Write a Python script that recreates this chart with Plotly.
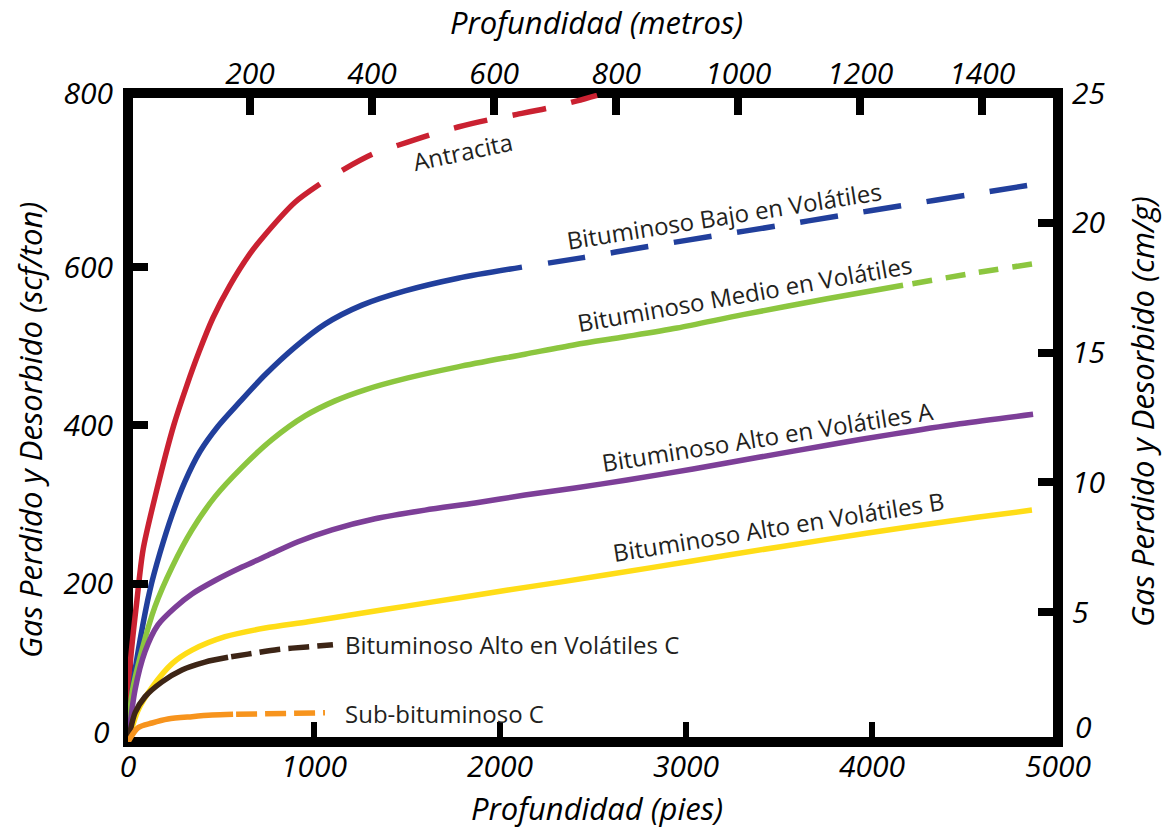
import plotly.graph_objects as go

# ---------------- data (depth in ft, gas in scf/ton) ----------------
red_x_solid = [0, 11, 48, 81, 151, 247, 317, 382, 457, 548, 656, 737, 898, 1032]
red_y_solid = [0, 95, 179, 243, 315, 401, 451, 493, 536, 577, 617, 641, 682, 705]
red_x_dash = [1032, 1156, 1317, 1452, 1634, 1774, 1957, 2091, 2280, 2414, 2522]
red_y_dash = [705, 723, 743, 754, 768, 777, 787, 793, 802, 810, 817]

blue_x_solid = [0, 27, 65, 118, 172, 237, 306, 387, 484, 602, 737, 898, 1059, 1258, 1489,
                1774, 2118]
blue_y_solid = [0, 72, 129, 192, 239, 287, 329, 367, 399, 430, 464, 499, 528, 552, 570,
                586, 600]
blue_x_dash = [2118, 2446, 2796, 3140, 3489, 3828, 4167, 4511, 4860]
blue_y_dash = [600, 612, 626, 639, 652, 665, 678, 691, 704]

green_x_solid = [0, 22, 75, 145, 237, 344, 468, 613, 774, 952, 1113, 1274, 1505, 1774,
                 2134, 2403, 2672, 2952, 3306, 3758, 4167]
green_y_solid = [0, 62, 116, 171, 221, 268, 310, 347, 382, 412, 431, 445, 460, 474,
                 490, 502, 512, 523, 540, 560, 577]
green_x_dash = [4167, 4511, 4860]
green_y_dash = [577, 591, 604]

purple_x = [0, 38, 91, 161, 253, 344, 468, 613, 753, 914, 1097, 1328, 1597, 1866,
            2134, 2403, 2683, 3038, 3398, 3758, 4113, 4473, 4866]
purple_y = [0, 66, 114, 148, 170, 187, 204, 221, 236, 253, 268, 282, 293, 302,
            312, 321, 331, 345, 360, 375, 389, 402, 414]

yellow_x = [0, 54, 129, 237, 344, 522, 737, 968, 1237, 1505, 1774, 2043, 2323,
            2806, 3220, 3758, 4204, 4565, 4860]
yellow_y = [0, 40, 69, 99, 116, 133, 144, 152, 162, 172, 182, 192, 202,
            220, 236, 256, 272, 284, 293]

brown_x_solid = [0, 38, 91, 183, 290, 414, 538]
brown_y_solid = [0, 37, 57, 76, 91, 101, 107]
brown_x_dash = [538, 645, 806, 962, 1102]
brown_y_dash = [107, 111, 117, 120, 123]

orange_x_solid = [0, 54, 129, 215, 344, 452, 565]
orange_y_solid = [0, 18, 24, 29, 32, 34, 35]
orange_x_dash = [565, 1059]
orange_y_dash = [35, 37]

x_ticks_ft = [0, 1000, 2000, 3000, 4000, 5000]
x_ticks_m = [200, 400, 600, 800, 1000, 1200, 1400]
y_ticks_scf = [200, 400, 600, 820]
y_ticks_scf_text = ["200", "400", "600", "800"]
y_ticks_cmg = [5, 10, 15, 20, 25]

labels = ["Antracita", "Bituminoso Bajo en Volátiles", "Bituminoso Medio en Volátiles",
          "Bituminoso Alto en Volátiles A", "Bituminoso Alto en Volátiles B",
          "Bituminoso Alto en Volátiles C", "Sub-bituminoso C"]

# ---------------- styling ----------------
RED = "#CA2131"
BLUE = "#213F9C"
GREEN = "#8CC63F"
PURPLE = "#7D3F98"
YELLOW = "#FFDD17"
BROWN = "#3D2516"
ORANGE = "#F7941D"
LW = 5.5

W, H = 1167, 831
L, R, T, B = 128, 1058, 93, 742


def pxx(p):
    return (p - L) / (R - L)


def pxy(p):
    return (B - p) / (B - T)


fig = go.Figure()


def add(x, y, color, dash="solid"):
    fig.add_trace(go.Scatter(x=x, y=y, mode="lines",
                             line=dict(color=color, width=LW, dash=dash,
                                       shape="spline", smoothing=0.8),
                             showlegend=False, hoverinfo="skip"))


add(red_x_solid, red_y_solid, RED)
add(red_x_dash, red_y_dash, RED, "0px,26px,34px,0px")
add(blue_x_solid, blue_y_solid, BLUE)
add(blue_x_dash, blue_y_dash, BLUE, "0px,26px,38px,0px")
add(green_x_solid, green_y_solid, GREEN)
add(green_x_dash, green_y_dash, GREEN, "0px,9px,20px,5px")
add(purple_x, purple_y, PURPLE)
add(yellow_x, yellow_y, YELLOW)
add(brown_x_solid, brown_y_solid, BROWN)
add(brown_x_dash, brown_y_dash, BROWN, "0px,3px,21px,5px")
add(orange_x_solid, orange_y_solid, ORANGE)
add(orange_x_dash, orange_y_dash, ORANGE, "0px,3px,21px,5px")

# registers the secondary (top / right) axes
fig.add_trace(go.Scatter(x=[None], y=[None], xaxis="x2", yaxis="y2",
                         showlegend=False, hoverinfo="skip"))

FONT = "Open Sans, Liberation Sans, Arial, sans-serif"
tickfont = dict(family=FONT, size=30, color="black", style="italic")
common = dict(showgrid=False, zeroline=False, showline=False, ticks="inside",
              tickcolor="black", tickfont=tickfont, fixedrange=True)

fig.update_layout(
    width=W, height=H, autosize=False,
    margin=dict(l=L, r=W - R, t=T, b=H - B, pad=0),
    paper_bgcolor="white", plot_bgcolor="rgba(0,0,0,0)",
    xaxis=dict(range=[0, 5000], tickvals=x_ticks_ft, ticklen=20, tickwidth=6,
               ticklabelstandoff=4, **common),
    xaxis2=dict(range=[0, 5000 / 3.2808], overlaying="x", side="top", anchor="y",
                tickvals=x_ticks_m, ticklen=22, tickwidth=8, ticklabelstandoff=2, **common),
    yaxis=dict(range=[0, 820], tickvals=y_ticks_scf, ticktext=y_ticks_scf_text,
               ticklen=20, tickwidth=8, ticklabelstandoff=14, **common),
    yaxis2=dict(range=[0, 25], overlaying="y", side="right", anchor="x",
                tickvals=y_ticks_cmg, ticklen=20, tickwidth=8, ticklabelstandoff=13, **common),
    shapes=[dict(type="rect", xref="paper", yref="paper", x0=0, x1=1, y0=0, y1=1,
                 line=dict(color="black", width=10), layer="below")],
)

# zero labels of the two vertical axes sit slightly above the bottom frame
for xx, yy, anchor in [(pxx(112), pxy(731), "right"), (pxx(1073), pxy(726), "left")]:
    fig.add_annotation(xref="paper", yref="paper", x=xx, y=yy, text="0",
                       showarrow=False, xanchor=anchor, yanchor="middle", font=tickfont)

titlefont = dict(family=FONT, size=31, color="black", style="italic")
ann = [
    dict(text="Profundidad (metros)", x=pxx(596), y=pxy(22), textangle=0),
    dict(text="Profundidad (pies)", x=pxx(597), y=pxy(808), textangle=0),
    dict(text="Gas Perdido y Desorbido (scf/ton)", x=pxx(30), y=pxy(430), textangle=-90),
    dict(text="Gas Perdido y Desorbido (cm/g)", x=pxx(1142), y=pxy(412), textangle=-90),
]
for a in ann:
    fig.add_annotation(xref="paper", yref="paper", showarrow=False,
                       xanchor="center", yanchor="middle", font=titlefont, **a)

labfont = dict(family=FONT, size=24, color="#231F20")
lab_pos = [(462, 151, -12), (724, 215, -9), (744, 293, -10), (767, 436, -9), (778, 526, -9)]
for text, (cx, cy, ang) in zip(labels[:5], lab_pos):
    fig.add_annotation(xref="paper", yref="paper", x=pxx(cx), y=pxy(cy), text=text,
                       showarrow=False, xanchor="center", yanchor="middle",
                       textangle=ang, font=labfont)
for text, (lx, cy) in zip(labels[5:], [(343, 644), (343, 713)]):
    fig.add_annotation(xref="paper", yref="paper", x=pxx(lx), y=pxy(cy), text=text,
                       showarrow=False, xanchor="left", yanchor="middle", font=labfont)

fig.write_html("out.html")
